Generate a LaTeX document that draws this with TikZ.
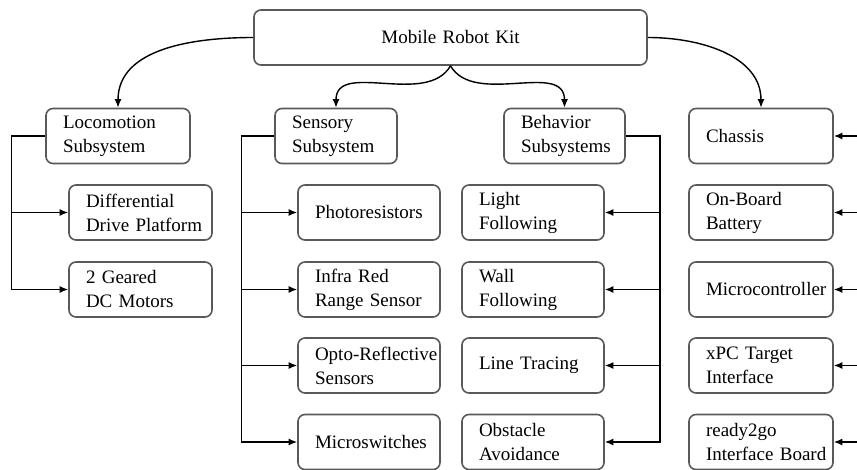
\documentclass[tikz,border=0pt]{standalone}
\usepackage{fontspec}
\setmainfont{LiberationSerif}[Extension=.ttf,UprightFont=*-Regular,BoldFont=*-Bold]
\usetikzlibrary{positioning,calc,arrows.meta}

\tikzset{
  part/.style={rectangle,rounded corners=7pt,draw=black!65,line width=1.6pt,
    minimum height=55pt,inner xsep=17pt,text width=#1,align=left,
    font=\rmfamily\fontsize{19}{24}\selectfont,
    execute at begin node={\hyphenpenalty=10000\exhyphenpenalty=10000}},
  link/.style={line width=1.4pt,-{Latex[length=8.5pt,width=7pt]}}
}

\begin{document}
\begin{tikzpicture}[x=1pt,y=-1pt]
        \useasboundingbox (0,0) rectangle (857,470);

        \node[part=359pt,align=center] (kit) at (450.5,37.5) {Mobile Robot Kit};

        % subsystems
        \node[part=110pt] (loco) at (118,136) {Locomotion\\Subsystem};
        \node[part=88pt] (sens) at (336,136) {Sensory\\Subsystem};
        \node[part=87pt] (behav) at (564.5,136) {Behavior\\Subsystems};
        \node[part=110pt] (chassis) at (761,136) {Chassis};

        \draw [link] (kit.west) to[out=180,in=90] (loco.north);
        \draw [link] (kit.south) to[out=-120,in=90] (sens.north);
        \draw [link] (kit.south) to[out=-60,in=90] (behav.north);
        \draw [link] (kit.east) to[out=0,in=90] (chassis.north);

        % locomotion
        \node[part=109pt] (loco-part1) at (140.5,212.5) {Differential\\Drive~Platform};
        \node[part=109pt] (loco-part2) at (140.5,289.5) {2 Geared\\DC~Motors};

        \coordinate (loco-spine) at ($(loco.west)+(-34,0)$);
        \draw [link] (loco.west) -- (loco-spine) |- (loco-part2.west);
        \draw [link] (loco-spine |- loco-part1.west) -- (loco-part1.west);

        % sensory
        \node[part=108pt] (sens-part1) at (369,212.5) {Photoresistors};
        \node[part=108pt] (sens-part2) at (369,289.5) {Infra~Red\\Range~Sensor};
        \node[part=108pt] (sens-part3) at (369,365.5) {Opto-Reflective\\Sensors};
        \node[part=108pt] (sens-part4) at (369,442) {Microswitches};

        \coordinate (sens-spine) at ($(sens.west)+(-33,0)$);
        \draw [link] (sens.west) -- (sens-spine) |- (sens-part4.west);
        \foreach \i in {1,2,3}
            \draw [link] (sens-spine |- sens-part\i.west) -- (sens-part\i.west);

        % behaviors
        \node[part=108pt] (behav-part1) at (533,212.5) {Light\\Following};
        \node[part=108pt] (behav-part2) at (533,289.5) {Wall\\Following};
        \node[part=108pt] (behav-part3) at (533,365.5) {Line~Tracing};
        \node[part=108pt] (behav-part4) at (533,442) {Obstacle\\Avoidance};

        \coordinate (behav-spine) at ($(behav.east)+(34,0)$);
        \draw [link] (behav.east) -- (behav-spine) |- (behav-part4.east);
        \foreach \i in {1,2,3}
            \draw [link] (behav-spine |- behav-part\i.east) -- (behav-part\i.east);

        % chassis
        \node[part=110pt] (chassis-part1) at (761,212.5) {On-Board\\Battery};
        \node[part=110pt] (chassis-part2) at (761,289.5) {Microcontroller};
        \node[part=110pt] (chassis-part3) at (761,365.5) {xPC~Target\\Interface};
        \node[part=110pt] (chassis-part4) at (761,442) {ready2go\\Interface~Board};

        \coordinate (chassis-feed) at ($(chassis.east)+(24,0)$);
        \draw [link] (chassis-feed) -- (chassis.east);
        \foreach \i in {1,...,4}
            \draw [link] (chassis-feed |- chassis-part\i.east) -- (chassis-part\i.east);
    \end{tikzpicture}
\end{document}
